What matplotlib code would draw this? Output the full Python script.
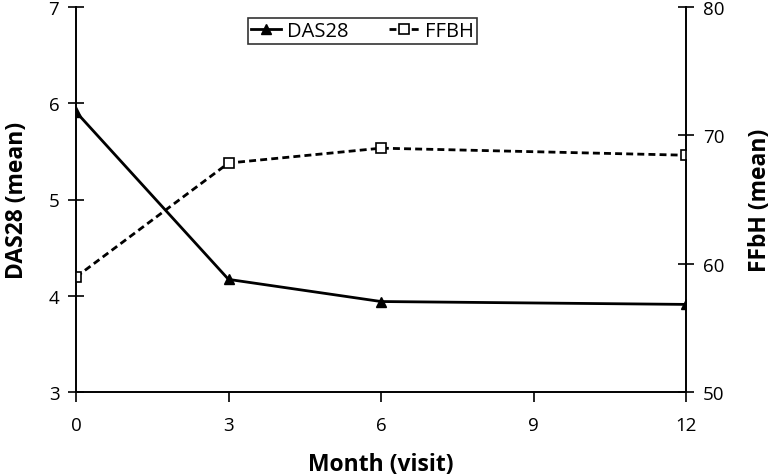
import matplotlib
matplotlib.use("Agg")
import matplotlib.pyplot as plt

months = [0, 3, 6, 12]
das28 = [5.91, 4.17, 3.94, 3.91]
ffbh = [58.96, 67.84, 69.0, 68.45]
xticks = [0, 3, 6, 9, 12]
left_ticks = [3, 4, 5, 6, 7]
right_ticks = [50, 60, 70, 80]

plt.rcParams['font.family'] = ['Open Sans', 'DejaVu Sans']

fig = plt.figure(figsize=(7.71, 4.77), dpi=100)
ax = fig.add_axes([76/771, 84/477, 610/771, 385/477])
ax2 = ax.twinx()

l1, = ax.plot(months, das28, color='black', lw=2, marker='^', ms=7.5, label='DAS28')
l2, = ax2.plot(months, ffbh, color='black', lw=2, ls=(0, (2.5, 1.5)), marker='s', ms=7.5,
               mfc='white', mec='black', mew=1.2, label='FFBH')

ax.set_xlim(0, 12)
ax.set_ylim(3, 7)
ax2.set_ylim(50, 80)
ax.set_xticks(xticks)
ax.set_yticks(left_ticks)
ax2.set_yticks(right_ticks)

for a in (ax, ax2):
    a.spines['top'].set_visible(False)
    for s in a.spines.values():
        s.set_linewidth(1.2)
ax.tick_params(axis='y', direction='inout', length=12, width=1.2, labelsize=13.5, pad=6)
ax.tick_params(axis='x', direction='out', length=7, width=1.2, labelsize=13.5, pad=10)
ax2.tick_params(axis='y', direction='inout', length=12, width=1.2, labelsize=13.5, pad=6)

ax.set_xlabel('Month (visit)', fontsize=16.5, fontweight='bold', labelpad=13)
ax.set_ylabel('DAS28 (mean)', fontsize=16.5, fontweight='bold', labelpad=14)
ax2.set_ylabel('FFbH (mean)', fontsize=16.5, fontweight='bold', labelpad=17)

leg = ax.legend(handles=[l1, l2], loc='upper left', bbox_to_anchor=(172/610, 1 - 11/385),
                ncol=2, fontsize=14.5, frameon=True, fancybox=False, edgecolor='black',
                handlelength=1.5, columnspacing=2.0, borderpad=0.15, handletextpad=0.3,
                markerscale=0.95, borderaxespad=0)
leg.get_frame().set_linewidth(1.2)

fig.savefig('out.png', dpi=100)
